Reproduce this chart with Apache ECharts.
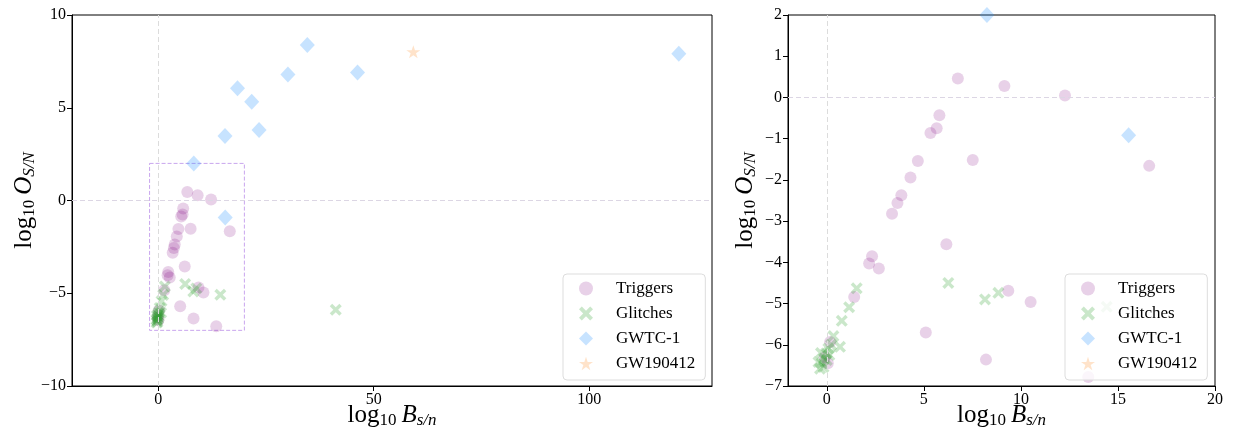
<!DOCTYPE html>
<html>
<head>
<meta charset="utf-8">
<script src="https://cdn.jsdelivr.net/npm/echarts@6/dist/echarts.min.js"></script>
<style>
  html, body { margin: 0; padding: 0; background: #fff; }
  #chart { width: 1237px; height: 434px; }
</style>
</head>
<body>
<div id="chart"></div>
<script>
// [log10 B_s/n, log10 O_S/N]
const triggers = [
  [6.75, 0.46], [9.15, 0.28], [12.27, 0.05], [5.8, -0.43], [5.66, -0.75],
  [5.34, -0.86], [4.69, -1.54], [7.52, -1.52], [16.61, -1.66], [4.31, -1.94],
  [3.84, -2.37], [3.64, -2.56], [3.36, -2.82], [6.16, -3.56], [2.33, -3.85],
  [2.18, -4.03], [2.68, -4.15], [1.41, -4.84], [5.1, -5.7], [9.35, -4.69],
  [10.5, -4.96], [8.2, -6.36], [13.47, -6.78], [0.17, -5.93], [-0.1, -6.3],
  [0.05, -6.45]
]
const glitches = [
  [1.54, -4.63], [1.15, -5.09], [0.77, -5.42], [0.34, -5.79], [0.68, -6.05],
  [0.08, -6.09], [-0.04, -6.21], [-0.14, -6.33], [-0.26, -6.45], [-0.35, -6.58],
  [-0.17, -6.54], [0.0, -6.37], [0.13, -6.25], [-0.43, -6.42], [-0.3, -6.2],
  [0.22, -6.0], [6.26, -4.5], [8.15, -4.9], [8.84, -4.74], [14.42, -5.08],
  [41.2, -5.89]
]
const gwtc1 = [
  [34.6, 8.38], [120.8, 7.91], [30.1, 6.79], [46.25, 6.9], [18.4, 6.05],
  [21.7, 5.33], [23.4, 3.8], [15.5, 3.48], [8.25, 2.0], [15.55, -0.92]
]
const gw190412 = [[59.2, 8.02]]

// axis limits and ticks
const fullX = [-20, 128.5]
const fullY = [-10, 10]
const fullXTicks = [0, 50, 100]
const zoomX = [-2, 20]
const zoomY = [-7, 2]
const zoomXTicks = [0, 5, 10, 15, 20]

const FONT = 'Liberation Serif'
const crossSymbol = 'path://M0,2 L2,0 L5,3 L8,0 L10,2 L7,5 L10,8 L8,10 L5,7 L2,10 L0,8 L3,5 Z'
const starSymbol = 'path://M50,0 L61.23,34.55 L97.55,34.55 L68.16,55.9 L79.39,90.45 L50,69.1 L20.61,90.45 L31.84,55.9 L2.45,34.55 L38.77,34.55 Z'

const chart = echarts.init(document.getElementById('chart'))

const nameRich = {
  t: { fontFamily: FONT, fontSize: 25, lineHeight: 28, color: '#000' },
  i: { fontFamily: FONT, fontSize: 25, lineHeight: 28, fontStyle: 'italic', color: '#000', padding: [0, 0, 0, 5] },
  s: { fontFamily: FONT, fontSize: 17, lineHeight: 12, verticalAlign: 'bottom', color: '#000' },
  si: { fontFamily: FONT, fontSize: 17, lineHeight: 12, verticalAlign: 'bottom', fontStyle: 'italic', color: '#000' }
}
const xName = '{t|log}{s|10}{i|B}{si|s/n}'
const yName = '{t|log}{s|10}{i|O}{si|S/N}'

function fmt(v) {
  return v < 0 ? '\u2212' + Math.abs(v) : String(v)
}

function xAxisOf(gridIndex, range, ticks) {
  return {
    type: 'value',
    gridIndex: gridIndex,
    min: range[0],
    max: range[1],
    name: xName,
    nameLocation: 'middle',
    nameGap: 15,
    nameMoveOverlap: false,
    nameTextStyle: { rich: nameRich },
    axisLine: { onZero: false, lineStyle: { color: '#000', width: 1 } },
    axisTick: { customValues: ticks, length: 5, lineStyle: { color: '#000' } },
    axisLabel: { customValues: ticks, formatter: fmt, fontFamily: FONT, fontSize: 16, color: '#000', margin: 6 },
    splitLine: { show: false }
  }
}

function yAxisOf(gridIndex, range, step, gap) {
  return {
    type: 'value',
    gridIndex: gridIndex,
    min: range[0],
    max: range[1],
    interval: step,
    name: yName,
    nameLocation: 'middle',
    nameGap: gap,
    nameMoveOverlap: false,
    nameTextStyle: { rich: nameRich },
    axisLine: { onZero: false, lineStyle: { color: '#000', width: 1 } },
    axisTick: { length: 5, lineStyle: { color: '#000' } },
    axisLabel: { formatter: fmt, fontFamily: FONT, fontSize: 16, color: '#000', margin: 6 },
    splitLine: { show: false }
  }
}

function seriesFor(idx, withBox) {
  const zeroLines = {
    silent: true,
    symbol: 'none',
    label: { show: false },
    animation: false,
    data: [
      { xAxis: 0, lineStyle: { color: '#dcdcdc', type: [5, 3], width: 1 } },
      { yAxis: 0, lineStyle: { color: '#dcd6e4', type: [5, 3], width: 1 } }
    ]
  }
  const trig = {
    name: 'Triggers',
    type: 'scatter',
    xAxisIndex: idx,
    yAxisIndex: idx,
    data: triggers,
    symbol: 'circle',
    symbolSize: 12,
    itemStyle: { color: 'purple', opacity: 0.18 },
    markLine: zeroLines
  }
  if (withBox) {
    trig.markArea = {
      silent: true,
      itemStyle: { color: 'rgba(0,0,0,0)', borderColor: '#c9a6ee', borderWidth: 1, borderType: [4, 2] },
      data: [[{ xAxis: zoomX[0], yAxis: zoomY[1] }, { xAxis: zoomX[1], yAxis: zoomY[0] }]]
    }
  }
  return [
    trig,
    {
      name: 'Glitches',
      type: 'scatter',
      xAxisIndex: idx,
      yAxisIndex: idx,
      data: glitches,
      symbol: crossSymbol,
      symbolSize: 12,
      itemStyle: { color: '#2ca02c', opacity: 0.25 }
    },
    {
      name: 'GWTC-1',
      type: 'scatter',
      xAxisIndex: idx,
      yAxisIndex: idx,
      data: gwtc1,
      symbol: 'diamond',
      symbolSize: [15, 16],
      itemStyle: { color: '#1e90ff', opacity: 0.25 }
    },
    {
      name: 'GW190412',
      type: 'scatter',
      xAxisIndex: idx,
      yAxisIndex: idx,
      data: gw190412,
      symbol: starSymbol,
      symbolSize: [14, 13],
      itemStyle: { color: '#ff7f0e', opacity: 0.22 }
    }
  ]
}

function legendAt(left) {
  return {
    orient: 'vertical',
    left: left,
    top: 274,
    padding: [6, 10, 8, 16],
    itemWidth: 14,
    itemHeight: 14,
    itemGap: 8,
    backgroundColor: 'rgba(255,255,255,0.8)',
    borderColor: '#dddddd',
    borderWidth: 1,
    borderRadius: 4,
    selectedMode: false,
    textStyle: { fontFamily: FONT, fontSize: 17, lineHeight: 16, color: '#000', padding: [0, 0, 0, 18] },
    data: ['Triggers', 'Glitches', 'GWTC-1', 'GW190412']
  }
}

const option = {
  animation: false,
  backgroundColor: '#fff',
  grid: [
    { left: 72, top: 15, width: 640, height: 371, outerBoundsMode: 'none', containLabel: false, show: true, borderColor: '#000', borderWidth: 1, backgroundColor: 'transparent' },
    { left: 788, top: 15, width: 427, height: 371, outerBoundsMode: 'none', containLabel: false, show: true, borderColor: '#000', borderWidth: 1, backgroundColor: 'transparent' }
  ],
  xAxis: [xAxisOf(0, fullX, fullXTicks), xAxisOf(1, zoomX, zoomXTicks)],
  yAxis: [yAxisOf(0, fullY, 5, 34), yAxisOf(1, zoomY, 1, 29)],
  legend: [legendAt(563), legendAt(1065)],
  series: seriesFor(0, true).concat(seriesFor(1, false))
}

chart.setOption(option)
window.onresize = () => {
  chart.resize()
}
</script>
</body>
</html>
